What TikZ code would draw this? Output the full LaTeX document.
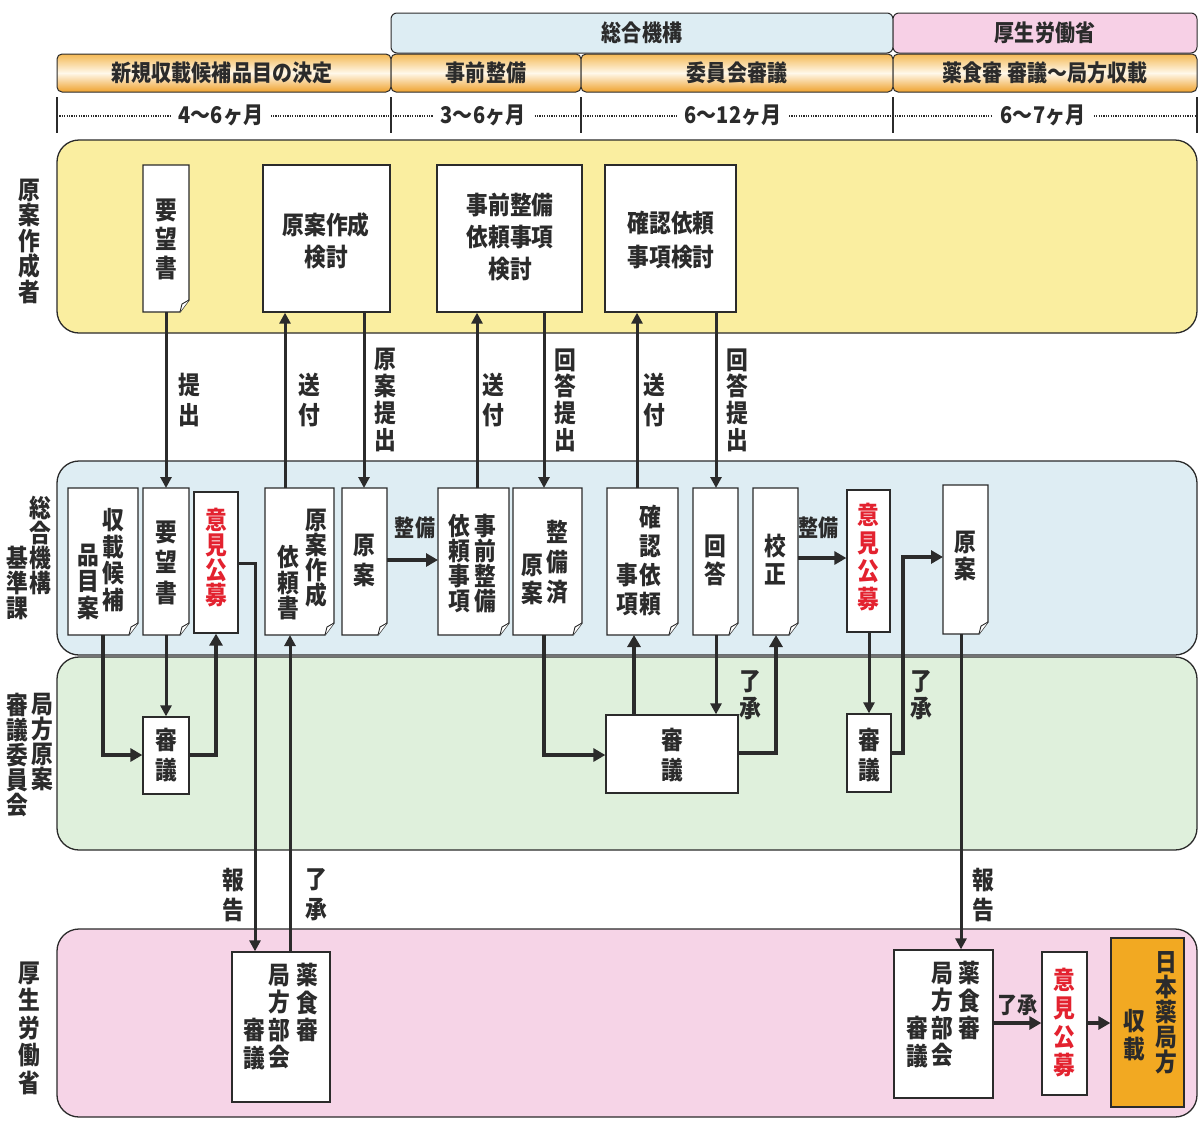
\documentclass[tikz,border=0pt]{standalone}
\usepackage{fontspec}
\setmainfont{Noto Sans CJK JP}[FakeStretch=0.87]
\usetikzlibrary{arrows.meta,fit}
\definecolor{laneY}{HTML}{FAEEA0}
\definecolor{laneB}{HTML}{DEEDF3}
\definecolor{laneG}{HTML}{DFF0DC}
\definecolor{laneP}{HTML}{F6D4E7}
\definecolor{hdrB}{HTML}{DDEDF3}
\definecolor{hdrP}{HTML}{F7D0E6}
\definecolor{orT}{HTML}{F4B955}
\definecolor{orM}{HTML}{FFF8EA}
\definecolor{orB}{HTML}{EFA22E}
\definecolor{ink}{HTML}{2B2B2B}
\definecolor{redtxt}{HTML}{E3222F}
\definecolor{jpOrange}{HTML}{F2A922}
\tikzset{
  lane/.style={draw=ink, line width=1.3pt, rounded corners=22pt, inner sep=0pt},
  hdr/.style={draw=ink, line width=1pt, rounded corners=6pt, inner sep=0pt},
  obar/.style={draw=ink, line width=1pt, rounded corners=5pt, inner sep=0pt,
    top color=orT, bottom color=orB, middle color=orM},
  box/.style={draw=ink, line width=1.3pt, fill=white, inner sep=0pt},
  tx/.style={font=\bfseries\fontsize{25}{#1}\selectfont, align=center, inner sep=0pt, text=ink},
  tx/.default=26,
  hx/.style={font=\bfseries\fontsize{23}{30}\selectfont, align=center, inner sep=0pt, text=ink},
  rtx/.style={tx=#1, text=redtxt},
  arr/.style={draw=ink, line width=3pt, -{Triangle[length=11pt,width=11pt]}},
  arrB/.style={draw=ink, line width=4.2pt, -{Triangle[length=12pt,width=13pt]}},
  tick/.style={draw=ink, line width=1.5pt},
  dots/.style={draw=ink, line width=1.4pt, dash pattern=on 1.2pt off 1.2pt},
}
\newcommand\docnode[5]{%
  \draw[box] (#2,#3) -- (#4,#3) -- (#4,{#5-12}) -- ({#4-9},#5) -- (#2,#5) -- cycle;
  \draw[ink, line width=0.9pt, fill=white] (#4,{#5-12}) -- ({#4-7},{#5-8}) -- ({#4-9},#5);
  \node[fit={(#2,#3) (#4,#5)}, inner sep=0pt, outer sep=0pt] (#1) {};
}
\begin{document}
\lineskiplimit=-60pt
\begin{tikzpicture}[x=1pt,y=-1pt]
\useasboundingbox (0,0) rectangle (1204,1120);
\fill[white] (0,0) rectangle (1204,1120);

% ---------- header ----------
\node[hdr, fill=hdrB, fit={(391,13) (893,53)}] (hB) {};
\node[hdr, fill=hdrP, fit={(893,13) (1197,53)}] (hP) {};
\node[hx] (hBt) at (642,33) {総合機構};
\node[hx] (hPt) at (1045,33) {厚生労働省};
\node[obar, fit={(57,54) (391,92)}] (o1) {};
\node[obar, fit={(391,54) (581,92)}] (o2) {};
\node[obar, fit={(581,54) (893,92)}] (o3) {};
\node[obar, fit={(893,54) (1197,92)}] (o4) {};
\node[hx] (o1t) at (222,73) {新規収載候補品目の決定};
\node[hx] (o2t) at (486,73) {事前整備};
\node[hx] (o3t) at (737,73) {委員会審議};
\node[hx] (o4t) at (1045,73) {薬食審 審議～局方収載};

% ---------- timeline ----------
\draw[dots] (57,116) -- (1197,116);
\foreach \xx in {57,391,581,893,1197} \draw[tick] (\xx,97) -- (\xx,133);
\node[hx, fill=white, inner xsep=8pt] (tm1) at (221,115) {4～6ヶ月};
\node[hx, fill=white, inner xsep=8pt] (tm2) at (483,115) {3～6ヶ月};
\node[hx, fill=white, inner xsep=8pt] (tm3) at (733,115) {6～12ヶ月};
\node[hx, fill=white, inner xsep=8pt] (tm4) at (1043,115) {6～7ヶ月};

% ---------- lanes ----------
\node[lane, fill=laneY, fit={(57,140) (1197,333)}] (LY) {};
\node[lane, fill=laneB, fit={(57,461) (1197,655)}] (LB) {};
\node[lane, fill=laneG, fit={(57,657) (1197,850)}] (LG) {};
\node[lane, fill=laneP, fit={(57,929) (1197,1117)}] (LP) {};

\node[tx=25.5] (l1) at (29,241) {原\\案\\作\\成\\者};
\node[tx=25] (l2a) at (40,545.5) {総\\合\\機\\構};
\node[tx=25] (l2b) at (17,583) {基\\準\\課};
\node[tx=25] (l3a) at (42,742.5) {局\\方\\原\\案};
\node[tx=25] (l3b) at (17,755) {審\\議\\委\\員\\会};
\node[tx=27.5] (l4) at (29,1028) {厚\\生\\労\\働\\省};

% ---------- yellow lane ----------
\docnode{y1}{143}{165}{189}{312}
\node[box, fit={(263,165) (390,312)}] (y2) {};
\node[box, fit={(437,165) (582,312)}] (y3) {};
\node[box, fit={(605,165) (736,312)}] (y4) {};
\node[tx=29] (y1t) at (166,239) {要\\望\\書};
\node[tx=32] (y2t) at (326,241) {原案作成\\検討};
\node[tx=32] (y3t) at (510,237) {事前整備\\依頼事項\\検討};
\node[tx=34] (y4t) at (671,240) {確認依頼\\事項検討};

% ---------- blue lane ----------
\docnode{b1}{68}{488}{138}{635}
\docnode{b2}{143}{488}{189}{635}
\node[box, fit={(194,492) (238,633)}] (b3) {};
\docnode{b4}{265}{488}{334}{635}
\docnode{b5}{342}{488}{387}{635}
\docnode{b6}{438}{488}{509}{635}
\docnode{b7}{513}{488}{582}{635}
\docnode{b8}{607}{488}{678}{635}
\docnode{b9}{693}{488}{738}{635}
\docnode{b10}{753}{488}{798}{635}
\node[box, fit={(847,490) (890,632)}] (b11) {};
\docnode{b12}{943}{485}{988}{634}

\node[tx=26.7] (b1t1) at (113,560) {収\\載\\候\\補};
\node[tx=26.5] (b1t2) at (88,581.5) {品\\目\\案};
\node[tx=30.5] (b2t) at (166,562.5) {要\\望\\書};
\node[rtx=25] (b3t) at (216,558) {意\\見\\公\\募};
\node[tx=25] (b4t1) at (316,558) {原\\案\\作\\成};
\node[tx=25.5] (b4t2) at (288,583) {依\\頼\\書};
\node[tx=30] (b5t) at (364,560) {原\\案};
\node[hx] (s1) at (415,528) {整備};
\node[tx=25] (b6t1) at (485,563.5) {事\\前\\整\\備};
\node[tx=25] (b6t2) at (459,563.5) {依\\頼\\事\\項};
\node[tx=30] (b7t1) at (557,562) {整\\備\\済};
\node[tx=28] (b7t2) at (532,579) {原\\案};
\node[tx=29] (b8t1) at (650,560.5) {確\\認\\依\\頼};
\node[tx=29] (b8t2) at (627,589.5) {事\\項};
\node[tx=28] (b9t) at (715,560) {回\\答};
\node[tx=28] (b10t) at (775,560) {校\\正};
\node[hx] (s2) at (818,528) {整備};
\node[rtx=28] (b11t) at (868,557) {意\\見\\公\\募};
\node[tx=27] (b12t) at (965,556) {原\\案};

% ---------- green lane ----------
\node[box, fit={(143,717) (189,794)}] (g1) {};
\node[box, fit={(606,715) (738,793)}] (g2) {};
\node[box, fit={(847,714) (891,792)}] (g3) {};
\node[tx=30] (g1t) at (166,755) {審\\議};
\node[tx=30] (g2t) at (672,755) {審\\議};
\node[tx=30] (g3t) at (869,755) {審\\議};
\node[tx=27] (r1) at (750,695) {了\\承};
\node[tx=27] (r2) at (921,695) {了\\承};

% ---------- pink lane ----------
\node[box, fit={(232,952) (330,1102)}] (p1) {};
\node[box, fit={(894,950) (993,1098)}] (p2) {};
\node[box, fit={(1042,952) (1087,1095)}] (p3) {};
\node[box, fill=jpOrange, fit={(1111,938) (1184,1107)}] (p4) {};
\node[tx=27.5] (p1t1) at (307,1002.5) {薬\\食\\審};
\node[tx=27.5] (p1t2) at (279,1016.5) {局\\方\\部\\会};
\node[tx=27.5] (p1t3) at (254,1044) {審\\議};
\node[tx=27.5] (p2t1) at (969,1000.5) {薬\\食\\審};
\node[tx=27.5] (p2t2) at (942,1014.5) {局\\方\\部\\会};
\node[tx=27.5] (p2t3) at (917,1042) {審\\議};
\node[hx] (r3) at (1017,1005) {了承};
\node[rtx=28.3] (p3t) at (1064,1022.5) {意\\見\\公\\募};
\node[tx=25] (p4t1) at (1166,1013) {日\\本\\薬\\局\\方};
\node[tx=28] (p4t2) at (1134,1035) {収\\載};

% ---------- labels between lanes ----------
\node[tx=30] (a1) at (189,400) {提\\出};
\node[tx=30] (a2) at (309,400) {送\\付};
\node[tx=26.7] (a3) at (385,400) {原\\案\\提\\出};
\node[tx=30] (a4) at (493,400) {送\\付};
\node[tx=26.7] (a5) at (565,400) {回\\答\\提\\出};
\node[tx=30] (a6) at (654,400) {送\\付};
\node[tx=26.7] (a7) at (737,400) {回\\答\\提\\出};
\node[tx=30] (k1) at (233,895) {報\\告};
\node[tx=30] (k2) at (316,895) {了\\承};
\node[tx=30] (k3) at (983,895) {報\\告};

% ---------- connectors ----------
\draw[arr] (y1.south) -- (b2.north);
\draw[arr] (b4.north -| 285,0) -- (y2.south -| 285,0);
\draw[arr] (y2.south -| 364,0) -- (b5.north -| 364,0);
\draw[arr] (b6.north -| 477,0) -- (y3.south -| 477,0);
\draw[arr] (y3.south -| 544,0) -- (b7.north -| 544,0);
\draw[arr] (b8.north -| 637,0) -- (y4.south -| 637,0);
\draw[arr] (y4.south -| 716,0) -- (b9.north -| 716,0);

\draw[arrB] (b1.south -| 103,0) |- (g1.west |- 0,755);
\draw[arr] (b2.south) -- (g1.north);
\draw[arrB] (g1.east |- 0,755) -| (b3.south -| 216,0);
\draw[arr] (b3.east |- 0,563) -| (p1.north -| 255,0);
\draw[arr] (p1.north -| 290,0) -- (b4.south -| 290,0);
\draw[arrB] (b5.east |- 0,560) -- (b6.west |- 0,560);
\draw[arrB] (b7.south -| 544,0) |- (g2.west |- 0,755);
\draw[arrB] (g2.north -| 634,0) -- (b8.south -| 634,0);
\draw[arr] (b9.south -| 716,0) -- (g2.north -| 716,0);
\draw[arrB] (g2.east |- 0,753) -| (b10.south -| 776,0);
\draw[arrB] (b10.east |- 0,558) -- (b11.west |- 0,558);
\draw[arr] (b11.south -| 869,0) -- (g3.north -| 869,0);
\draw[arrB] (g3.east |- 0,753) -- (903,753) -- (903,557) -- (b12.west |- 0,557);
\draw[arr] (b12.south -| 961,0) -- (p2.north -| 961,0);
\draw[arrB] (p2.east |- 0,1023) -- (p3.west |- 0,1023);
\draw[arrB] (p3.east |- 0,1023) -- (p4.west |- 0,1023);
\end{tikzpicture}
\end{document}
